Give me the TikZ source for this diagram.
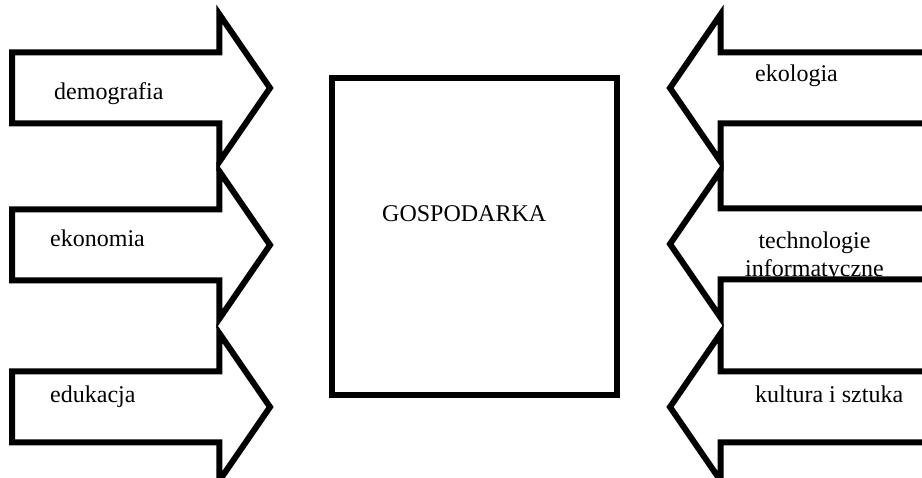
\documentclass[tikz,border=0pt]{standalone}
\usepackage{fontspec}
\setmainfont{Liberation Serif}
\usetikzlibrary{shapes.arrows}

\begin{document}
\begin{tikzpicture}[
    x=1pt, y=-1pt,
    font=\fontsize{24}{28}\selectfont,
    every node/.style={align=center},
    arrin/.style ={single arrow, draw, line width=6pt, outer sep=0pt,
                   inner xsep=0pt, inner ysep=32.5pt, minimum width=0pt,
                   single arrow head extend=38pt, single arrow tip angle=111,
                   minimum height=258pt, anchor=tip},
    arrback/.style={arrin, shape border rotate=180, minimum height=300pt},
    core/.style  ={rectangle, draw, line width=6pt, outer sep=0pt,
                   minimum width=285pt, minimum height=317pt},
    lbl/.style   ={inner sep=0pt, anchor=base west}
]
\useasboundingbox (0,0) rectangle (922,478);
\clip (0,0) rectangle (922,478);

% Centre
\node[core] (gosp) at (474.5,236.5) {};
\node[lbl]  (gospT) at (382,222) {GOSPODARKA};

% Left column
\node[arrin] (demo) at (270,88)  {};
\node[arrin] (ekon) at (270,245) {};
\node[arrin] (eduk) at (270,407) {};
\node[lbl] (demoT) at (54,100) {demografia};
\node[lbl] (ekonT) at (50,247) {ekonomia};
\node[lbl] (edukT) at (50,403) {edukacja};

% Right column
\node[arrback] (ekol) at (670,88)  {};
\node[arrback] (tech) at (670,244) {};
\node[arrback] (kult) at (670,407) {};
\node[lbl] (ekolT) at (755,82) {ekologia};
\node[inner sep=0pt, anchor=north] (techT) at (814.5,232) {technologie\\informatyczne};
\node[lbl] (kultT) at (755,403) {kultura i sztuka};
\end{tikzpicture}
\end{document}
